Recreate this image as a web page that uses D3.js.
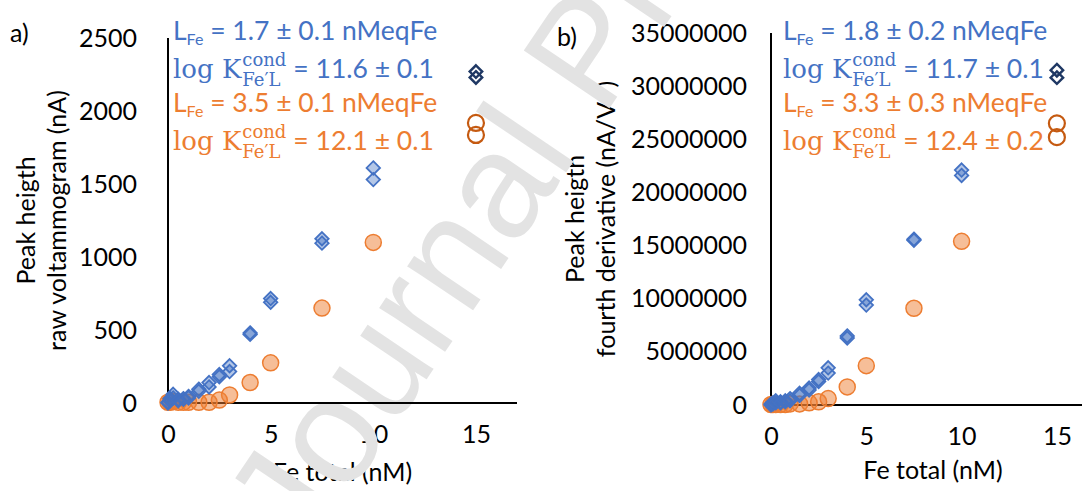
<!DOCTYPE html>
<html>
<head>
<meta charset="utf-8">
<script src="https://cdn.jsdelivr.net/npm/d3@7"></script>
<style>
  body { margin: 0; background: #fff; }
  svg { display: block; }
</style>
</head>
<body>
<div id="chart"></div>
<script>
// Fe added (nM), shared by both panels
const feTotal = [0, 0.1, 0.25, 0.5, 0.75, 1, 1.5, 2, 2.5, 3, 4, 5, 7.5, 10];
const feLast = [15, 15];

// a) raw voltammogram peak height (nA)
const rawUvA = [5, 30, 60, 25, 30, 45, 95, 140, 195, 255, 480, 715, 1125, 1610];
const rawUvB = [0, 15, 35, 15, 25, 35, 80, 110, 180, 215, 470, 690, 1095, 1530];
const rawDark = [5, 5, 10, 5, 5, 5, 5, 5, 20, 55, 140, 275, 650, 1100];
const rawUvLast = [2270, 2230];
const rawDarkLast = [1918, 1836];

// b) fourth derivative peak height (nA/V^-4)
const d4UvA = [100000, 200000, 400000, 300000, 400000, 600000, 1100000, 1600000, 2400000, 3500000, 6500000, 9900000, 15600000, 22100000];
const d4UvB = [0, 100000, 200000, 200000, 300000, 400000, 900000, 1400000, 2200000, 3000000, 6300000, 9400000, 15500000, 21600000];
const d4Dark = [50000, 50000, 50000, 50000, 50000, 100000, 100000, 200000, 300000, 600000, 1700000, 3700000, 9100000, 15400000];
const d4UvLast = [31500000, 30800000];
const d4DarkLast = [26500000, 25200000];

const xTicks = [0, 5, 10, 15];
const rawTicks = [0, 500, 1000, 1500, 2000, 2500];
const d4Ticks = [0, 5000000, 10000000, 15000000, 20000000, 25000000, 30000000, 35000000];

const fitA = { uvL: "1.7 ± 0.1", uvK: "11.6 ± 0.1", darkL: "3.5 ± 0.1", darkK: "12.1 ± 0.1" };
const fitB = { uvL: "1.8 ± 0.2", uvK: "11.7 ± 0.1", darkL: "3.3 ± 0.3", darkK: "12.4 ± 0.2" };

const W = 1082, H = 491;
const sans = "Lato, 'Open Sans', sans-serif";
const serif = "'DejaVu Serif', serif";
const blue = "#4472c4", orange = "#ed7d31", navy = "#1f3864", rust = "#c55a11";

const svg = d3.select("#chart").append("svg")
  .attr("width", W)
  .attr("height", H);

function panel(opt) {
  const g = svg.append("g");

  const x = d3.scaleLinear().domain([0, 17]).range([opt.left, opt.right]);
  const y = d3.scaleLinear().domain([0, opt.yMax]).range([opt.bottom, opt.top]);

  // tick labels
  g.append("g")
    .attr("transform", `translate(0,${opt.bottom})`)
    .call(d3.axisBottom(x).tickValues(xTicks).tickSize(0).tickPadding(22))
    .call(a => a.select(".domain").remove())
    .selectAll("text")
    .style("font-family", sans).style("font-size", "25px").attr("fill", "#000");

  g.append("g")
    .attr("transform", `translate(${opt.left},0)`)
    .call(d3.axisLeft(y).tickValues(opt.yTicks).tickSize(0).tickPadding(opt.yPad).tickFormat(d3.format("d")))
    .call(a => a.select(".domain").remove())
    .selectAll("text")
    .style("font-family", sans).style("font-size", "25px").attr("fill", "#000");

  // axis titles
  g.append("text")
    .attr("x", (opt.left + opt.right) / 2).attr("y", opt.xTitleY)
    .attr("text-anchor", "middle")
    .style("font-family", sans).style("font-size", "25px")
    .text("Fe total (nM)");

  opt.yTitle.forEach((t, i) => {
    const yt = g.append("text")
      .attr("transform", `translate(${opt.yTitleX[i]},${(opt.top + opt.bottom) / 2}) rotate(-90)`)
      .attr("text-anchor", "middle")
      .style("font-family", sans).style("font-size", "25px");
    yt.append("tspan").text(t);
    if (i === 1 && opt.sup) {
      yt.append("tspan").attr("dy", -10).style("font-size", "15px").text(opt.sup);
      yt.append("tspan").attr("dy", 10).text(")");
    }
  });

  g.append("text")
    .attr("x", opt.tagX).attr("y", opt.tagY)
    .style("font-family", sans).style("font-size", "25px")
    .text(opt.tag);

  // fitted ligand parameters
  const ann = g.append("g");
  lLine(ann, opt.annX, 40, blue, opt.fit.uvL);
  kLine(ann, opt.annX, 78, blue, opt.fit.uvK);
  lLine(ann, opt.annX, 112, orange, opt.fit.darkL);
  kLine(ann, opt.annX, 150, orange, opt.fit.darkK);

  opt.marks = { g, x, y };
  return opt;
}

function lLine(g, x0, y0, color, val) {
  const t = g.append("text").attr("x", x0).attr("y", y0).attr("fill", color)
    .style("font-family", sans).style("font-size", "26.5px");
  t.append("tspan").text("L");
  t.append("tspan").attr("dy", 5).style("font-size", "16px").text("Fe");
  t.append("tspan").attr("dy", -5).text(" = " + val + " nMeqFe");
}

function kLine(g, x0, y0, color, val) {
  const t1 = g.append("text").attr("x", x0).attr("y", y0).attr("fill", color)
    .style("font-family", serif).style("font-size", "26px").text("log K");
  const w1 = t1.node().getComputedTextLength();
  const sup = g.append("text").attr("x", x0 + w1 + 1).attr("y", y0 - 12).attr("fill", color)
    .style("font-family", serif).style("font-size", "18px").text("cond");
  const sub = g.append("text").attr("x", x0 + w1 + 1).attr("y", y0 + 8).attr("fill", color)
    .style("font-family", serif).style("font-size", "18px").text("Fe\u2032L");
  const w2 = Math.max(sup.node().getComputedTextLength(), sub.node().getComputedTextLength());
  g.append("text").attr("x", x0 + w1 + w2 + 8).attr("y", y0).attr("fill", color)
    .style("font-family", sans).style("font-size", "26.5px").text("= " + val);
}

const pa = panel({
  left: 168, right: 517, top: 38, bottom: 403, yMax: 2500, yTicks: rawTicks, yPad: 31,
  xTitleY: 481, yTitle: ["Peak heigth", "raw voltammogram (nA)"], yTitleX: [35, 66],
  tag: "a)", tagX: 10, tagY: 42, annX: 173, fit: fitA
});
const pb = panel({
  left: 771, right: 1095, top: 33, bottom: 405, yMax: 35000000, yTicks: d4Ticks, yPad: 24,
  xTitleY: 479, yTitle: ["Peak heigth", "fourth derivative (nA/V"], yTitleX: [584, 615], sup: "-4",
  tag: "b)", tagX: 557, tagY: 46, annX: 783, fit: fitB
});

// watermark: over the labels, under axes and markers
svg.append("text")
  .attr("transform", "translate(304,561) rotate(-56)")
  .style("font-family", "'Liberation Sans', Arial, sans-serif")
  .style("font-size", "150px")
  .attr("fill", "#e3e3e3")
  .text("Journal Pre-proof");

const diamond = d3.symbol().type(d3.symbolDiamond2).size(115);
const diamondLast = d3.symbol().type(d3.symbolDiamond2).size(100);

function drawMarks(p, uvA, uvB, dark, uvLast, darkLast) {
  const { x, y } = p.marks;
  const g = svg.append("g");

  // axis lines
  g.append("line").attr("x1", x(0)).attr("x2", x(17)).attr("y1", y(0)).attr("y2", y(0))
    .attr("stroke", "#000").attr("stroke-width", 2);
  g.append("line").attr("x1", x(0)).attr("x2", x(0)).attr("y1", p.top).attr("y2", y(0))
    .attr("stroke", "#000").attr("stroke-width", 2);

  g.selectAll(".dk").data(feTotal).join("circle")
    .attr("cx", d => x(d)).attr("cy", (d, i) => y(dark[i])).attr("r", 8)
    .attr("fill", orange).attr("fill-opacity", 0.5)
    .attr("stroke", orange).attr("stroke-width", 1.5);

  [uvA, uvB].forEach(vals => {
    g.append("g").selectAll("path").data(feTotal).join("path")
      .attr("transform", (d, i) => `translate(${x(d)},${y(vals[i])})`)
      .attr("d", diamond)
      .attr("fill", blue).attr("fill-opacity", 0.4)
      .attr("stroke", blue).attr("stroke-width", 1.8);
  });

  g.append("g").selectAll("circle").data(feLast).join("circle")
    .attr("cx", d => x(d)).attr("cy", (d, i) => y(darkLast[i])).attr("r", 8)
    .attr("fill", "none").attr("stroke", rust).attr("stroke-width", 2.2);

  g.append("g").selectAll("path").data(feLast).join("path")
    .attr("transform", (d, i) => `translate(${x(d)},${y(uvLast[i])})`)
    .attr("d", diamondLast)
    .attr("fill", "none").attr("stroke", navy).attr("stroke-width", 2.4);
}

drawMarks(pa, rawUvA, rawUvB, rawDark, rawUvLast, rawDarkLast);
drawMarks(pb, d4UvA, d4UvB, d4Dark, d4UvLast, d4DarkLast);
</script>
</body>
</html>
